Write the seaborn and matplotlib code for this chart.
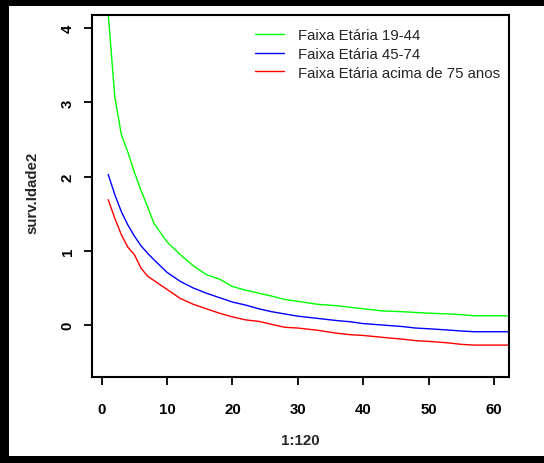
import numpy as np
import pandas as pd
import matplotlib
matplotlib.use("Agg")
import matplotlib.pyplot as plt
import seaborn as sns
from matplotlib.patches import Rectangle

# ---- data ----
tempo = [1, 2, 3, 4, 5, 6, 7, 8, 10, 12, 14, 16, 18, 20, 22, 24, 26, 28, 30,
         33, 36, 38, 40, 43, 46, 48, 50, 53, 55, 57, 63]
faixa_19_44 = [4.20, 3.08, 2.57, 2.33, 2.06, 1.82, 1.60, 1.37, 1.12, 0.95, 0.80,
               0.68, 0.62, 0.52, 0.47, 0.43, 0.39, 0.345, 0.32, 0.28, 0.26, 0.24,
               0.22, 0.19, 0.18, 0.17, 0.16, 0.15, 0.14, 0.125, 0.125]
faixa_45_74 = [2.03, 1.76, 1.53, 1.35, 1.20, 1.07, 0.97, 0.88, 0.71, 0.59, 0.50,
               0.43, 0.37, 0.31, 0.27, 0.22, 0.18, 0.15, 0.12, 0.09, 0.06, 0.045,
               0.02, 0.0, -0.02, -0.04, -0.05, -0.067, -0.08, -0.09, -0.09]
faixa_75 = [1.69, 1.44, 1.22, 1.05, 0.95, 0.77, 0.66, 0.60, 0.48, 0.36, 0.28,
            0.22, 0.16, 0.11, 0.07, 0.05, 0.01, -0.03, -0.04, -0.07, -0.11, -0.13,
            -0.14, -0.166, -0.19, -0.21, -0.22, -0.24, -0.26, -0.27, -0.27]
series_names = ["Faixa Etária 19-44", "Faixa Etária 45-74", "Faixa Etária acima de 75 anos"]
series_colors = ["#00FF00", "#0000FF", "#FF0000"]
x_ticks = [0, 10, 20, 30, 40, 50, 60]
y_ticks = [0, 1, 2, 3, 4]

df = pd.DataFrame({
    "x": tempo * 3,
    "y": faixa_19_44 + faixa_45_74 + faixa_75,
    "grupo": [series_names[0]] * len(tempo) + [series_names[1]] * len(tempo)
             + [series_names[2]] * len(tempo),
})

sns.set_style("ticks")
plt.rcParams["font.family"] = ["Liberation Sans", "DejaVu Sans"]
plt.rcParams.update({
    "xtick.bottom": True, "ytick.left": True,
    "xtick.major.size": 6, "ytick.major.size": 6,
    "xtick.major.width": 1.3, "ytick.major.width": 1.3,
    "xtick.color": "black", "ytick.color": "black",
    "xtick.direction": "out", "ytick.direction": "out",
})

fig = plt.figure(figsize=(5.44, 4.64), dpi=100)
fig.patch.set_facecolor("black")
fig.add_artist(Rectangle((9 / 544, 7 / 464), 1 - 9 / 544, (457 - 7) / 464,
                         transform=fig.transFigure, facecolor="white",
                         edgecolor="none", zorder=-10))

ax = fig.add_axes([92 / 544, 1 - 378 / 464, (509 - 92) / 544, (378 - 15.7) / 464])
sns.lineplot(data=df, x="x", y="y", hue="grupo", palette=series_colors,
             hue_order=series_names, ax=ax, linewidth=1.0, legend=False,
             estimator=None, sort=False)

ax.set_xlim(-1.48, 62.3)
ax.set_ylim(-0.70, 4.183)
ax.set_xticks(x_ticks)
ax.set_yticks(y_ticks)
ax.set_xticklabels([str(v) for v in x_ticks], fontweight="bold", fontsize=10.8)
ax.set_yticklabels([str(v) for v in y_ticks], fontweight="bold", fontsize=10.8,
                   rotation=90, va="center")
ax.tick_params(axis="x", bottom=True, direction="out", length=6, width=1.3,
               pad=12, color="black")
ax.tick_params(axis="y", left=True, direction="out", length=6, width=1.3,
               pad=6.5, color="black")
for t in ax.xaxis.get_major_ticks() + ax.yaxis.get_major_ticks():
    t.tick1line.set_visible(True)
    t.tick1line.set_color("black")
for s in ax.spines.values():
    s.set_visible(True)
    s.set_color("black")
    s.set_linewidth(1.5)

ax.set_xlabel("1:120", fontweight="bold", fontsize=10.8)
ax.set_ylabel("surv.Idade2", fontweight="bold", fontsize=10.8)
ax.xaxis.set_label_coords((300 - 92) / 417, (378 - 434) / 362.3)
ax.yaxis.set_label_coords((39 - 92) / 417, (378 - 193) / 362.3)

handles = [plt.Line2D([], [], color=c, linewidth=1.0) for c in series_colors]
ax.legend(handles, series_names, loc="upper left",
          bbox_to_anchor=((255 - 92) / 417, (378 - 29) / 362.3),
          frameon=False, fontsize=10.8, handlelength=1.9, handletextpad=1.0,
          labelspacing=0.32, borderaxespad=0, borderpad=0)

fig.savefig("out.png", dpi=100, facecolor=fig.get_facecolor())
